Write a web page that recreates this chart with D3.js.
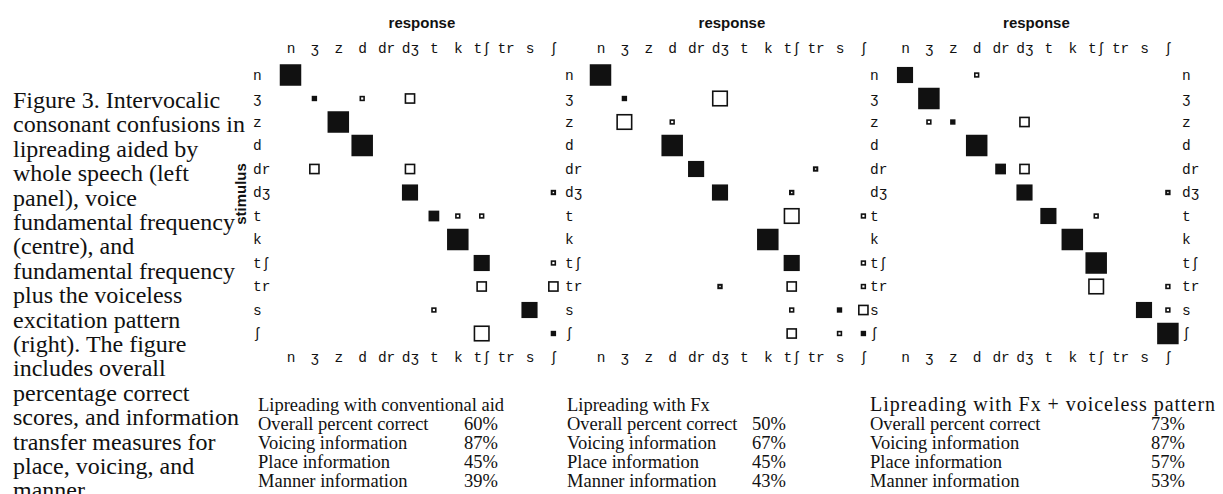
<!DOCTYPE html>
<meta charset="utf-8">
<style>
  body { margin: 0; padding: 0; background: white; }
  svg { display: block; background: white; }
  .lab { font-family: "Liberation Mono", "DejaVu Sans Mono", monospace; font-size: 14.5px; fill: #111; }
  .hd { font-family: "Liberation Sans", Arial, sans-serif; font-weight: bold; font-size: 15px; fill: #111; }
  .cap { font-family: "Liberation Serif", "Times New Roman", serif; font-size: 24px; fill: #111; }
  .stat { font-family: "Liberation Serif", "Times New Roman", serif; font-size: 18.5px; fill: #111; }
</style>
<script src="https://cdn.jsdelivr.net/npm/d3@7"></script>
<svg id="vis"></svg>
<script>

var width = 1223, height = 494;

// consonants, stimulus rows and response columns use the same order
const phonemes = ["n","ʒ","z","d","dr","dʒ","t","k","tʃ","tr","s","ʃ"];
const voiced = ["n","ʒ","z","d","dr","dʒ"];

// [stimulus, response, percent of responses]
const wholeSpeech = [
  ["n","n",100],
  ["ʒ","ʒ",25],["ʒ","d",25],["ʒ","dʒ",50],
  ["z","z",100],
  ["d","d",100],
  ["dr","ʒ",50],["dr","dʒ",50],
  ["dʒ","dʒ",75],["dʒ","ʃ",25],
  ["t","t",50],["t","k",25],["t","tʃ",25],
  ["k","k",100],
  ["tʃ","tʃ",75],["tʃ","ʃ",25],
  ["tr","tʃ",50],["tr","ʃ",50],
  ["s","t",25],["s","s",75],
  ["ʃ","tʃ",75],["ʃ","ʃ",25]
];
const fxOnly = [
  ["n","n",100],
  ["ʒ","ʒ",25],["ʒ","dʒ",75],
  ["z","ʒ",75],["z","d",25],
  ["d","d",100],
  ["dr","dr",75],["dr","tr",25],
  ["dʒ","dʒ",75],["dʒ","tʃ",25],
  ["t","tʃ",75],["t","ʃ",25],
  ["k","k",100],
  ["tʃ","tʃ",75],["tʃ","ʃ",25],
  ["tr","dʒ",25],["tr","tʃ",50],["tr","ʃ",25],
  ["s","tʃ",25],["s","s",25],["s","ʃ",50],
  ["ʃ","tʃ",50],["ʃ","s",25],["ʃ","ʃ",25]
];
const fxVoiceless = [
  ["n","n",75],["n","d",25],
  ["ʒ","ʒ",100],
  ["z","ʒ",25],["z","z",25],["z","dʒ",50],
  ["d","d",100],
  ["dr","dr",50],["dr","dʒ",50],
  ["dʒ","dʒ",75],["dʒ","ʃ",25],
  ["t","t",75],["t","tʃ",25],
  ["k","k",100],
  ["tʃ","tʃ",100],
  ["tr","tʃ",75],["tr","ʃ",25],
  ["s","s",75],["s","ʃ",25],
  ["ʃ","ʃ",100]
];

const panelTitles = ["Lipreading with conventional aid", "Lipreading with Fx", "Lipreading with Fx + voiceless pattern"];
const measureLabels = ["Overall percent correct", "Voicing information", "Place information", "Manner information"];
const scoresWhole = ["60%","87%","45%","39%"];
const scoresFx = ["50%","67%","45%","43%"];
const scoresFxVoiceless = ["73%","87%","57%","53%"];

const captionLines = [
  "Figure 3. Intervocalic",
  "consonant confusions in",
  "lipreading aided by",
  "whole speech (left",
  "panel), voice",
  "fundamental frequency",
  "(centre), and",
  "fundamental frequency",
  "plus the voiceless",
  "excitation pattern",
  "(right). The figure",
  "includes overall",
  "percentage correct",
  "scores, and information",
  "transfer measures for",
  "place, voicing, and",
  "manner."
];

var svg = d3.select("svg").attr("width", width).attr("height", height);

// layout
var panels = [
  {data: wholeSpeech, scores: scoresWhole, x0: 290.5, rowLab: 253, textX: 258, pctX: 464, titleSize: null, titleLen: null, rightLab: false},
  {data: fxOnly, scores: scoresFx, x0: 600.5, rowLab: 565, textX: 567, pctX: 752, titleSize: null, titleLen: null, rightLab: false},
  {data: fxVoiceless, scores: scoresFxVoiceless, x0: 905, rowLab: 870, textX: 870, pctX: 1151, titleSize: "20px", titleLen: 345, rightLab: true}
];
var colStep = 23.9, rowStep = 23.5, rowTop = 75;

var y = d3.scalePoint().domain(phonemes).range([rowTop, rowTop + rowStep * 11]);
var size = d3.scaleLinear().domain([0, 100]).range([0, 21.5]);

// caption on the left
svg.append("g").selectAll("text")
  .data(captionLines)
  .enter().append("text")
    .attr("class", "cap")
    .attr("x", 13)
    .attr("y", (d, i) => 108 + i * 24.4)
    .text(d => d);

svg.append("text")
  .attr("class", "hd")
  .attr("transform", "translate(246,194) rotate(-90)")
  .attr("text-anchor", "middle")
  .text("stimulus");

panels.forEach(function(p, pi) {
  var x = d3.scalePoint().domain(phonemes).range([p.x0, p.x0 + colStep * 11]);

  svg.append("text")
    .attr("class", "hd")
    .attr("x", p.x0 + colStep * 5.5)
    .attr("y", 28)
    .attr("text-anchor", "middle")
    .text("response");

  // response labels top and bottom
  var top = svg.append("g")
    .attr("transform", "translate(0,53)")
    .call(d3.axisTop(x).tickSize(0).tickPadding(0));
  var bottom = svg.append("g")
    .attr("transform", "translate(0,362)")
    .call(d3.axisBottom(x).tickSize(0).tickPadding(0));
  [top, bottom].forEach(function(ax) {
    ax.select(".domain").remove();
    ax.attr("font-family", null).attr("font-size", null);
    ax.selectAll("text").attr("class", "lab").attr("dy", null).attr("y", 0);
  });

  // stimulus labels
  var left = svg.append("g")
    .attr("transform", "translate(" + p.rowLab + ",0)")
    .call(d3.axisLeft(y).tickSize(0).tickPadding(0));
  left.select(".domain").remove();
  left.attr("font-family", null).attr("font-size", null);
  left.selectAll("text").attr("class", "lab").attr("text-anchor", "start")
    .attr("x", 0).attr("dy", "0.3em");

  if (p.rightLab) {
    var right = svg.append("g")
      .attr("transform", "translate(1182,0)")
      .call(d3.axisRight(y).tickSize(0).tickPadding(0));
    right.select(".domain").remove();
    right.attr("font-family", null).attr("font-size", null);
    right.selectAll("text").attr("class", "lab").attr("x", 0).attr("dy", "0.3em");
  }

  // confusion squares
  var cells = svg.append("g").selectAll("g")
    .data(p.data)
    .enter().append("g")
      .attr("transform", d => "translate(" + x(d[1]) + "," + y(d[0]) + ")");

  cells.each(function(d) {
    var g = d3.select(this);
    var s = size(d[2]);
    var diag = d[0] == d[1];
    var voicingError = voiced.includes(d[0]) != voiced.includes(d[1]);
    if (diag || voicingError) {
      g.append("rect")
        .attr("x", -s / 2).attr("y", -s / 2)
        .attr("width", s).attr("height", s)
        .attr("fill", "#111");
      if (voicingError) {
        // speckled look of the voicing-error marks
        g.append("rect")
          .attr("x", -0.7).attr("y", -0.7)
          .attr("width", 1.4).attr("height", 1.4)
          .attr("fill", "#fff");
      }
    } else {
      var sw = 1.6;
      g.append("rect")
        .attr("x", -(s - sw) / 2).attr("y", -(s - sw) / 2)
        .attr("width", s - sw).attr("height", s - sw)
        .attr("fill", "#fff")
        .attr("stroke", "#111")
        .attr("stroke-width", sw);
    }
  });

  // summary scores
  var st = svg.append("g");
  var title = st.append("text")
    .attr("class", "stat")
    .attr("x", p.textX)
    .attr("y", 411)
    .text(panelTitles[pi]);
  if (p.titleSize) title.style("font-size", p.titleSize);
  if (p.titleLen) title.attr("textLength", p.titleLen).attr("lengthAdjust", "spacing");
  st.selectAll(".m")
    .data(measureLabels)
    .enter().append("text")
      .attr("class", "stat")
      .attr("x", p.textX)
      .attr("y", (d, i) => 430 + i * 19)
      .text(d => d);
  st.selectAll(".v")
    .data(p.scores)
    .enter().append("text")
      .attr("class", "stat")
      .attr("x", p.pctX)
      .attr("y", (d, i) => 430 + i * 19)
      .text(d => d);
});

</script>
